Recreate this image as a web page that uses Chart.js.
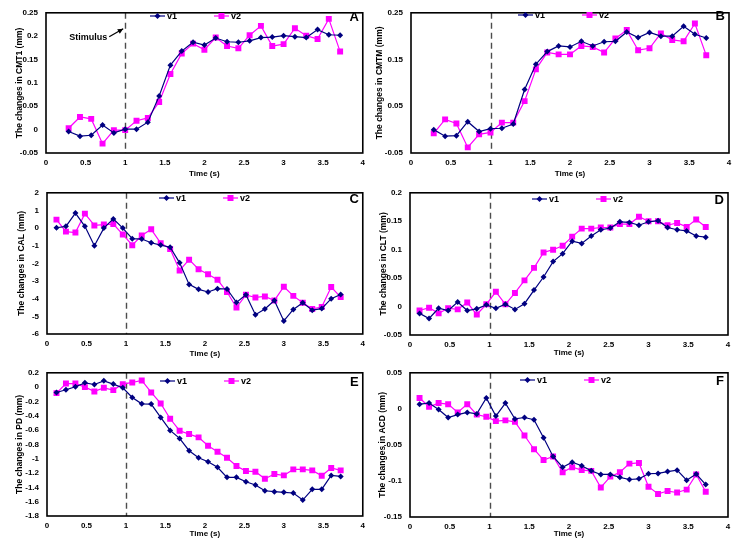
<!DOCTYPE html>
<html>
<head>
<meta charset="utf-8">
<script src="https://cdn.jsdelivr.net/npm/chart.js@4/dist/chart.umd.min.js"></script>
<style>
  html, body { margin: 0; padding: 0; background: #ffffff; }
  body { width: 741px; height: 550px; position: relative; overflow: hidden; }
  canvas { position: absolute; }
</style>
</head>
<body>
<script>
// ---------------- DATA ----------------
const timeAB = [0.286,0.429,0.571,0.714,0.857,1.0,1.143,1.286,1.429,1.571,1.714,1.857,2.0,2.143,2.286,2.429,2.571,2.714,2.857,3.0,3.143,3.286,3.429,3.571,3.714];
const timeCF = [0.12,0.24,0.36,0.48,0.60,0.72,0.84,0.96,1.08,1.20,1.32,1.44,1.56,1.68,1.80,1.92,2.04,2.16,2.28,2.40,2.52,2.64,2.76,2.88,3.00,3.12,3.24,3.36,3.48,3.60,3.72];
const seriesNames = ['v1', 'v2'];
const xTicks = [0, 0.5, 1, 1.5, 2, 2.5, 3, 3.5, 4];
const stimulusTime = 1;

const cmt1V1 = [-0.004,-0.014,-0.012,0.010,-0.007,0.001,0.001,0.016,0.072,0.138,0.168,0.187,0.181,0.196,0.188,0.187,0.190,0.197,0.198,0.201,0.199,0.197,0.214,0.203,0.202];
const cmt1V2 = [0.003,0.027,0.023,-0.030,-0.001,-0.001,0.019,0.025,0.059,0.119,0.163,0.184,0.171,0.197,0.179,0.174,0.202,0.222,0.179,0.183,0.217,0.201,0.194,0.237,0.167];
const cmtmV1 = [0.000,-0.014,-0.013,0.017,-0.004,0.002,0.003,0.012,0.086,0.140,0.167,0.179,0.177,0.189,0.179,0.188,0.189,0.209,0.197,0.208,0.200,0.200,0.221,0.204,0.196];
const cmtmV2 = [-0.008,0.022,0.013,-0.038,-0.010,-0.006,0.015,0.015,0.061,0.129,0.165,0.161,0.161,0.179,0.177,0.165,0.195,0.213,0.170,0.174,0.206,0.192,0.189,0.227,0.159];
const calV1 = [0.02,0.1,0.85,0.1,-1.0,0.0,0.52,0.0,-0.6,-0.62,-0.83,-0.96,-1.08,-1.97,-3.19,-3.47,-3.62,-3.43,-3.45,-4.21,-3.78,-4.91,-4.58,-4.1,-5.26,-4.61,-4.23,-4.65,-4.56,-4.0,-3.76];
const calV2 = [0.48,-0.2,-0.25,0.82,0.15,0.2,0.23,-0.36,-0.97,-0.42,-0.07,-0.85,-1.18,-2.4,-1.79,-2.33,-2.62,-2.93,-3.62,-4.5,-3.78,-3.93,-3.87,-4.1,-3.32,-3.84,-4.23,-4.58,-4.47,-3.34,-3.91];
const cltV1 = [-0.012,-0.021,-0.003,-0.007,0.008,-0.007,-0.004,0.003,-0.003,0.004,-0.005,0.005,0.029,0.052,0.079,0.093,0.115,0.111,0.124,0.135,0.138,0.149,0.148,0.143,0.149,0.151,0.139,0.135,0.133,0.124,0.122];
const cltV2 = [-0.007,-0.002,-0.012,-0.003,-0.005,0.007,-0.014,0.004,0.026,0.004,0.024,0.046,0.068,0.095,0.100,0.107,0.123,0.137,0.137,0.139,0.139,0.145,0.145,0.158,0.150,0.150,0.143,0.147,0.140,0.153,0.140];
const pdV1 = [-0.075,-0.037,0.005,0.06,0.037,0.088,0.042,-0.01,-0.144,-0.233,-0.237,-0.423,-0.605,-0.716,-0.888,-0.986,-1.042,-1.12,-1.26,-1.26,-1.321,-1.367,-1.447,-1.46,-1.47,-1.479,-1.577,-1.428,-1.428,-1.233,-1.247];
const pdV2 = [-0.084,0.05,0.05,0.0,-0.06,-0.01,-0.042,0.042,0.065,0.093,-0.074,-0.228,-0.442,-0.609,-0.656,-0.702,-0.819,-0.902,-0.986,-1.102,-1.172,-1.181,-1.279,-1.214,-1.233,-1.149,-1.149,-1.163,-1.237,-1.13,-1.163];
const acdV1 = [0.0065,0.008,-0.001,-0.012,-0.008,-0.005,-0.007,0.015,-0.01,0.008,-0.014,-0.012,-0.015,-0.040,-0.066,-0.081,-0.074,-0.079,-0.086,-0.091,-0.091,-0.095,-0.098,-0.097,-0.090,-0.0895,-0.087,-0.085,-0.099,-0.0905,-0.105];
const acdV2 = [0.015,0.003,0.008,0.0065,-0.005,0.0065,-0.008,-0.011,-0.017,-0.016,-0.018,-0.037,-0.056,-0.071,-0.066,-0.088,-0.081,-0.085,-0.086,-0.109,-0.094,-0.088,-0.076,-0.075,-0.108,-0.118,-0.114,-0.116,-0.112,-0.091,-0.115];

const yTicksA = [-0.05, 0, 0.05, 0.1, 0.15, 0.2, 0.25];
const yTicksB = [-0.05, 0.05, 0.15, 0.25];
const yTicksC = [-6, -5, -4, -3, -2, -1, 0, 1, 2];
const yTicksD = [-0.05, 0, 0.05, 0.1, 0.15, 0.2];
const yTicksE = [-1.8, -1.6, -1.4, -1.2, -1, -0.8, -0.6, -0.4, -0.2, 0, 0.2];
const yTicksF = [-0.15, -0.1, -0.05, 0, 0.05];

const yTitles = ['The changes in CMT1 (mm)','The changes in CMTM (mm)','The changes in CAL (mm)','The changes in CLT (mm)','The changes in PD (mm)','The changes in ACD (mm)'];
const panelLetters = ['A','B','C','D','E','F'];
const xTitle = 'Time (s)';
const stimulusLabel = 'Stimulus';

// ---------------- LAYOUT (positions/styles) ----------------
const FONT = '"Liberation Sans", Arial, Helvetica, sans-serif';
const COLOR_V1 = '#000080';
const COLOR_V2 = '#ff00ff';
const panels = [
  { t: timeAB, v1: cmt1V1, v2: cmt1V2, yt: yTicksA, cv:[0,0,370,180],     area:{l:46,t:8,r:365,b:153},  yTX:20, xTY:174, legX:150, legY:16, stim:true },
  { t: timeAB, v1: cmtmV1, v2: cmtmV2, yt: yTicksB, cv:[370,0,371,180],   area:{l:41,t:8,r:359,b:153},  yTX:10, xTY:174, legX:148, legY:15 },
  { t: timeCF, v1: calV1,  v2: calV2,  yt: yTicksC, cv:[0,180,370,180],   area:{l:47,t:10,r:365,b:154}, yTX:22, xTY:174, legX:159, legY:18 },
  { t: timeCF, v1: cltV1,  v2: cltV2,  yt: yTicksD, cv:[370,180,371,180], area:{l:40,t:9,r:358,b:155},  yTX:14, xTY:173, legX:162, legY:19 },
  { t: timeCF, v1: pdV1,   v2: pdV2,   yt: yTicksE, cv:[0,360,370,180],   area:{l:47,t:12,r:366,b:156}, yTX:20, xTY:174, legX:160, legY:21 },
  { t: timeCF, v1: acdV1,  v2: acdV2,  yt: yTicksF, cv:[370,360,371,180], area:{l:40,t:12,r:358,b:157}, yTX:13, xTY:174, legX:150, legY:20 }
];

const fmt = (v) => String(Number(Number(v).toFixed(4)));

function drawMarker(ctx, style, x, y, color) {
  ctx.save();
  ctx.fillStyle = color;
  ctx.beginPath();
  if (style === 'rectRot') {
    ctx.moveTo(x, y - 3); ctx.lineTo(x + 3, y); ctx.lineTo(x, y + 3); ctx.lineTo(x - 3, y); ctx.closePath();
  } else {
    ctx.rect(x - 3, y - 3, 6, 6);
  }
  ctx.fill();
  ctx.restore();
}

const panelPlugin = {
  id: 'panel',
  beforeDatasetsDraw(chart, args, opts) {
    const { ctx, chartArea: a, scales } = chart;
    const x = Math.round(scales.x.getPixelForValue(stimulusTime)) + 0.5;
    ctx.save();
    ctx.strokeStyle = '#4d4d4d';
    ctx.lineWidth = 1.4;
    ctx.setLineDash([6, 4]);
    ctx.beginPath();
    ctx.moveTo(x, a.top);
    ctx.lineTo(x, a.bottom);
    ctx.stroke();
    ctx.restore();
  },
  afterDraw(chart, args, opts) {
    const { ctx, chartArea: a, scales } = chart;
    ctx.save();
    // frame
    ctx.strokeStyle = '#000';
    ctx.lineWidth = 1.6;
    ctx.strokeRect(a.left, a.top, a.right - a.left, a.bottom - a.top);
    // legend
    const ds = chart.data.datasets;
    const xs = [opts.legX, opts.legX + 64];
    ds.forEach((d, i) => {
      const x0 = xs[i], y = opts.legY;
      ctx.strokeStyle = d.borderColor;
      ctx.lineWidth = 1.2;
      ctx.beginPath(); ctx.moveTo(x0, y); ctx.lineTo(x0 + 15, y); ctx.stroke();
      drawMarker(ctx, d.pointStyle, x0 + 7.5, y, d.borderColor);
      ctx.fillStyle = '#000';
      ctx.font = 'bold 9px ' + FONT;
      ctx.textAlign = 'left'; ctx.textBaseline = 'middle';
      ctx.fillText(d.label, x0 + 17, y + 0.5);
    });
    // panel letter
    ctx.fillStyle = '#000';
    ctx.font = 'bold 13px ' + FONT;
    ctx.textAlign = 'right'; ctx.textBaseline = 'middle';
    ctx.fillText(opts.letter, a.right - 4, opts.legY + 1.5);
    // stimulus annotation
    if (opts.stim) {
      const xs1 = scales.x.getPixelForValue(stimulusTime);
      const tipX = xs1 - 2, tipY = a.top + 16;
      const tailX = tipX - 14, tailY = tipY + 8;
      ctx.strokeStyle = '#000'; ctx.lineWidth = 1.3;
      ctx.beginPath(); ctx.moveTo(tailX, tailY); ctx.lineTo(tipX, tipY); ctx.stroke();
      const ang = Math.atan2(tipY - tailY, tipX - tailX);
      ctx.beginPath();
      ctx.moveTo(tipX, tipY);
      ctx.lineTo(tipX - 6 * Math.cos(ang - 0.45), tipY - 6 * Math.sin(ang - 0.45));
      ctx.lineTo(tipX - 6 * Math.cos(ang + 0.45), tipY - 6 * Math.sin(ang + 0.45));
      ctx.closePath(); ctx.fillStyle = '#000'; ctx.fill();
      ctx.font = 'bold 9px ' + FONT;
      ctx.textAlign = 'right'; ctx.textBaseline = 'middle';
      ctx.fillText(stimulusLabel, tailX - 2, tailY + 1);
    }
    ctx.restore();
  }
};

panels.forEach((p, idx) => {
  const c = document.createElement('canvas');
  c.width = p.cv[2]; c.height = p.cv[3];
  c.style.left = p.cv[0] + 'px'; c.style.top = p.cv[1] + 'px';
  c.style.width = p.cv[2] + 'px'; c.style.height = p.cv[3] + 'px';
  document.body.appendChild(c);
  const W = p.cv[2], H = p.cv[3], A = p.area;
  const mk = (vals) => p.t.map((t, i) => ({ x: t, y: vals[i] }));
  new Chart(c, {
    type: 'line',
    data: {
      datasets: [
        { label: seriesNames[0], data: mk(p.v1), borderColor: COLOR_V1, backgroundColor: COLOR_V1,
          borderWidth: 1.2, pointStyle: 'rectRot', pointRadius: 3, pointBorderWidth: 0, tension: 0, fill: false },
        { label: seriesNames[1], data: mk(p.v2), borderColor: COLOR_V2, backgroundColor: COLOR_V2,
          borderWidth: 1.2, pointStyle: 'rect', pointRadius: 4.2, pointBorderWidth: 0, tension: 0, fill: false }
      ]
    },
    options: {
      responsive: false, animation: false, devicePixelRatio: 1,
      layout: { padding: { left: 0, top: A.t, right: W - A.r, bottom: 0 } },
      plugins: {
        legend: { display: false }, tooltip: { enabled: false },
        panel: { legX: p.legX, legY: p.legY, letter: panelLetters[idx], stim: !!p.stim }
      },
      scales: {
        x: {
          type: 'linear', min: xTicks[0], max: xTicks[xTicks.length - 1],
          afterBuildTicks: (s) => { s.ticks = xTicks.map(v => ({ value: v })); },
          afterFit: (s) => { s.height = H - A.b; },
          grid: { display: false, drawTicks: false },
          border: { display: false },
          ticks: { callback: fmt, font: { family: FONT, size: 8, weight: 'bold' }, color: '#000', padding: 5, autoSkip: false, maxRotation: 0 },
          title: { display: true, text: xTitle, color: '#000', font: { family: FONT, size: 8, weight: 'bold' },
                   padding: { top: 0, bottom: H - p.xTY - 4.8 } }
        },
        y: {
          type: 'linear', min: p.yt[0], max: p.yt[p.yt.length - 1],
          afterBuildTicks: (s) => { s.ticks = p.yt.map(v => ({ value: v })); },
          afterFit: (s) => { s.width = A.l; },
          grid: { display: false, drawTicks: false },
          border: { display: false },
          ticks: { callback: fmt, font: { family: FONT, size: 8, weight: 'bold' }, color: '#000', padding: 8, autoSkip: false },
          title: { display: true, text: yTitles[idx], color: '#000', font: { family: FONT, size: 8.5, weight: 'bold' },
                   padding: { top: p.yTX - 5, bottom: 0 } }
        }
      }
    },
    plugins: [panelPlugin]
  });
});
</script>
</body>
</html>
